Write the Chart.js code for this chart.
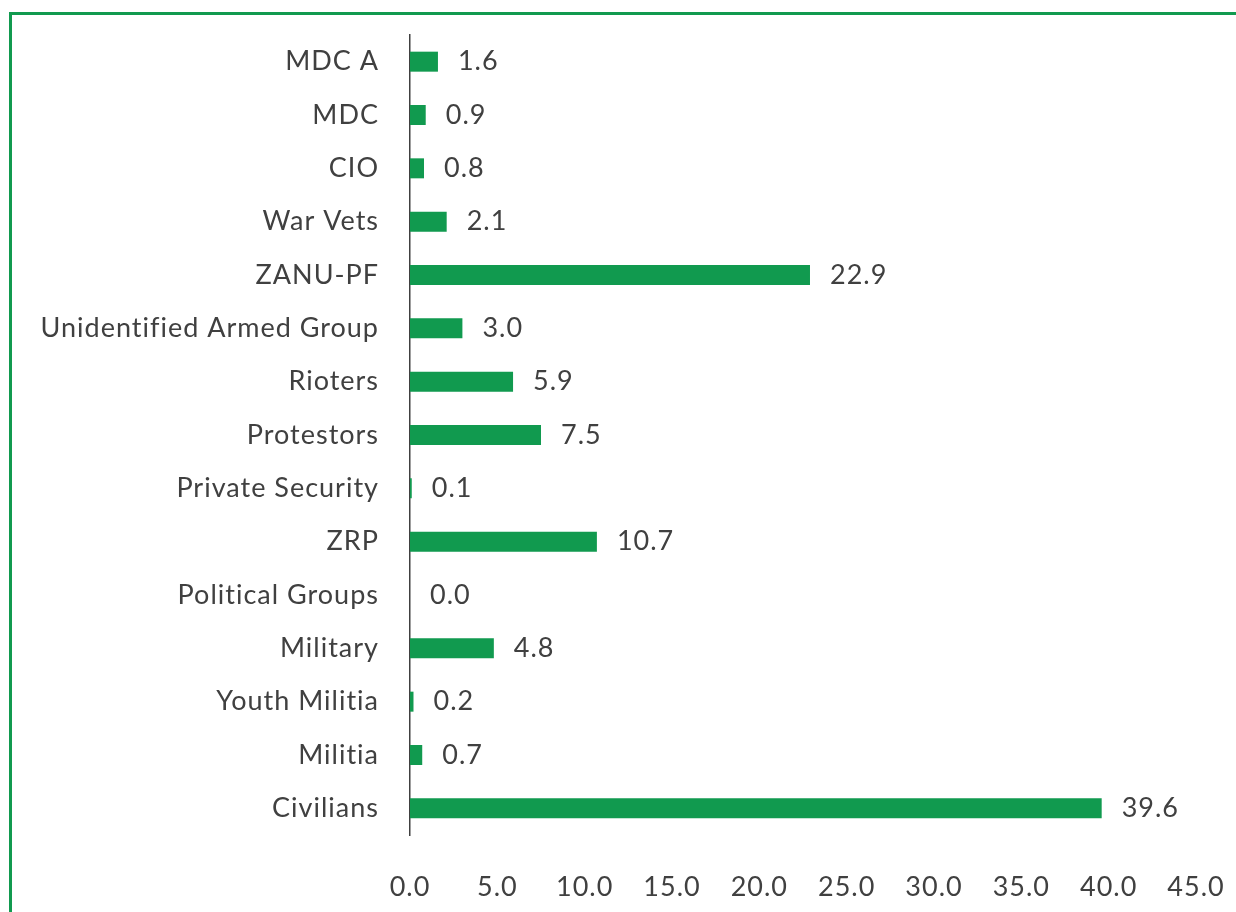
<!DOCTYPE html>
<html>
<head>
<meta charset="utf-8">
<script src="https://cdn.jsdelivr.net/npm/chart.js@4"></script>
<style>
  html, body { margin: 0; padding: 0; background: #fff; }
  #wrap { position: relative; width: 1236px; height: 912px; overflow: hidden; }
  #frame { position: absolute; left: 9px; top: 12px; width: 1300px; height: 1000px;
           border-left: 3px solid #119a4f; border-top: 3px solid #119a4f; }
  #chart { position: absolute; left: 0; top: 0; }
</style>
</head>
<body>
<div id="wrap">
  <div id="frame"></div>
  <canvas id="chart" width="1236" height="912"></canvas>
</div>
<script>
// categorias (de arriba hacia abajo) y porcentajes
const categorias = ['MDC A', 'MDC', 'CIO', 'War Vets', 'ZANU-PF', 'Unidentified Armed Group',
  'Rioters', 'Protestors', 'Private Security', 'ZRP', 'Political Groups', 'Military',
  'Youth Militia', 'Militia', 'Civilians'];
const valores = [1.6, 0.9, 0.8, 2.1, 22.9, 3.0, 5.9, 7.5, 0.1, 10.7, 0.0, 4.8, 0.2, 0.7, 39.6];
const ticksX = [0, 5, 10, 15, 20, 25, 30, 35, 40, 45];

const verde = '#119a4f';
const gris = '#404040';
const fuente = 'Lato, "Open Sans", sans-serif';

// espaciado de letras (evita ligaduras y ensancha el texto)
const espaciado = {
  id: 'espaciado',
  beforeDraw(chart) {
    chart.ctx.letterSpacing = '1px';
  }
};

// etiquetas de valor a la derecha de cada barra
const etiquetasValor = {
  id: 'etiquetasValor',
  afterDatasetsDraw(chart) {
    const ctx = chart.ctx;
    const meta = chart.getDatasetMeta(0);
    ctx.save();
    ctx.font = '27px ' + fuente;
    ctx.letterSpacing = '1px';
    ctx.fillStyle = gris;
    ctx.textBaseline = 'middle';
    ctx.textAlign = 'left';
    meta.data.forEach((bar, i) => {
      ctx.fillText(valores[i].toFixed(1), bar.x + 20, bar.y);
    });
    ctx.restore();
  }
};

new Chart(document.getElementById('chart'), {
  type: 'bar',
  data: {
    labels: categorias,
    datasets: [{
      data: valores,
      backgroundColor: verde,
      borderWidth: 0,
      barPercentage: 0.75,
      categoryPercentage: 0.5
    }]
  },
  options: {
    indexAxis: 'y',
    responsive: false,
    animation: false,
    layout: { padding: { top: 35, right: 40, left: 0, bottom: 0 } },
    plugins: { legend: { display: false }, tooltip: { enabled: false } },
    scales: {
      x: {
        min: 0,
        max: 45,
        afterBuildTicks: (scale) => { scale.ticks = ticksX.map(v => ({ value: v })); },
        afterFit: (scale) => {
          scale.height = 77;
          scale.paddingLeft = 0;
          scale.paddingRight = 0;
        },
        grid: { display: false },
        border: { display: false },
        ticks: {
          color: gris,
          font: { family: fuente, size: 27 },
          padding: 28,
          callback: (v) => Number(v).toFixed(1)
        }
      },
      y: {
        afterFit: (scale) => {
          scale.width = 410;
          scale.paddingTop = 0;
          scale.paddingBottom = 0;
        },
        grid: { display: false },
        border: { display: true, color: gris, width: 1.5 },
        ticks: {
          color: gris,
          font: { family: fuente, size: 27 },
          padding: 23
        }
      }
    }
  },
  plugins: [espaciado, etiquetasValor]
});
</script>
</body>
</html>
